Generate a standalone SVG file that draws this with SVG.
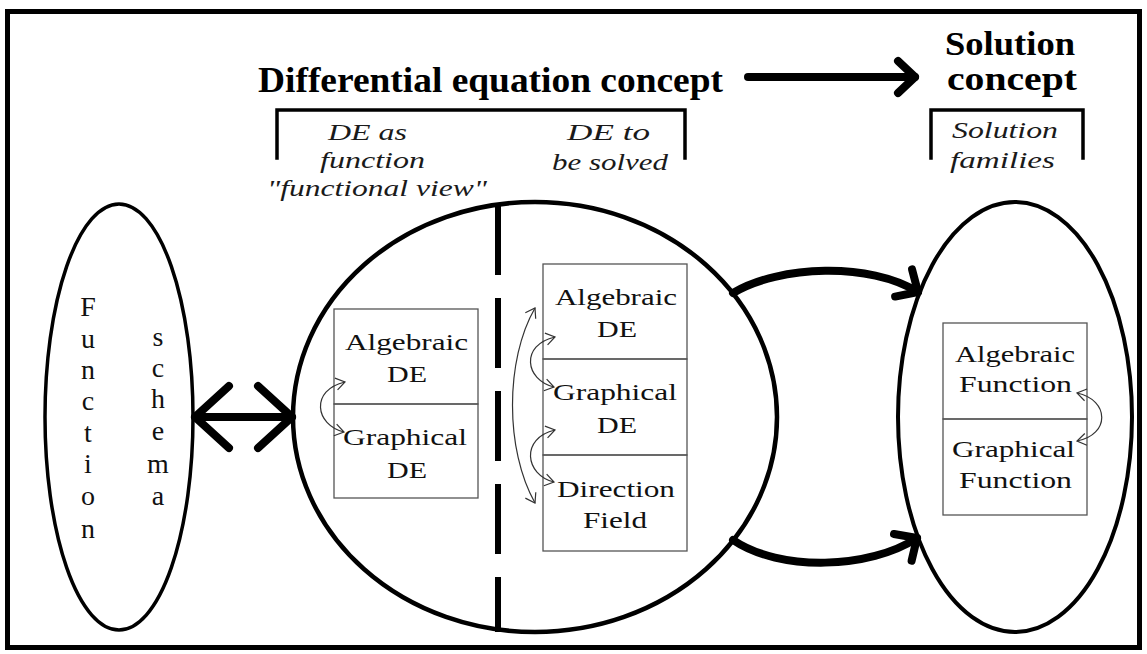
<svg xmlns="http://www.w3.org/2000/svg" width="1147" height="654" viewBox="0 0 1147 654">
<style>
text{font-family:"Liberation Serif","Times New Roman",serif;}
.title{font-weight:bold;font-size:36px;fill:#000;}
.sol{font-weight:bold;font-size:33px;fill:#000;}
.ital{font-style:italic;font-size:23px;fill:#1a1a1a;}
.box{font-size:24px;fill:#111;}
.vert{font-size:28px;fill:#111;text-anchor:middle;}
.oval{fill:none;stroke:#000;}
.brk{fill:none;stroke:#000;stroke-width:3.5;stroke-linecap:square;}
.cell{fill:none;stroke:#555;stroke-width:1.3;}
.thick{fill:none;stroke:#000;stroke-width:8;stroke-linecap:round;}
.thin{fill:none;stroke:#333;stroke-width:1.2;}
</style>
<defs>
<marker id="ah" viewBox="-30 -30 40 60" refX="0" refY="0" markerWidth="40" markerHeight="60" markerUnits="userSpaceOnUse" orient="auto" overflow="visible">
<path d="M-17,-16 L0,0 L-17,16" fill="none" stroke="#000" stroke-width="8" stroke-linecap="round" stroke-linejoin="round"/>
</marker>
<marker id="ahb" viewBox="-45 -40 55 80" refX="0" refY="0" markerWidth="55" markerHeight="80" markerUnits="userSpaceOnUse" orient="auto-start-reverse" overflow="visible">
<path d="M-34,-31 L0,0 L-34,31" fill="none" stroke="#000" stroke-width="8" stroke-linecap="round" stroke-linejoin="round"/>
</marker>
<marker id="as" viewBox="-15 -15 20 30" refX="0" refY="0" markerWidth="20" markerHeight="30" markerUnits="userSpaceOnUse" orient="auto-start-reverse" overflow="visible">
<path d="M-9,-6 L0,0 L-9,6" fill="none" stroke="#333" stroke-width="1.2"/>
</marker>
</defs>
<rect x="0" y="0" width="1147" height="654" fill="#fff"/>
<rect id="frame" x="7.5" y="11.5" width="1132" height="636" fill="none" stroke="#000" stroke-width="5"/>

<g id="title-de">
<text class="title" x="258" y="92" textLength="465" lengthAdjust="spacingAndGlyphs">Differential equation concept</text>
</g>
<g id="title-solution">
<text class="sol" x="945" y="55" textLength="130" lengthAdjust="spacingAndGlyphs">Solution</text>
<text class="sol" x="947" y="90" textLength="130" lengthAdjust="spacingAndGlyphs">concept</text>
</g>

<g id="bracket-de">
<path class="brk" d="M277,158 L277,110 L685,110 L685,158"/>
<text class="ital" x="328" y="140" textLength="79" lengthAdjust="spacingAndGlyphs">DE as</text>
<text class="ital" x="320" y="168" textLength="105" lengthAdjust="spacingAndGlyphs">function</text>
<text class="ital" x="267" y="196" textLength="220" lengthAdjust="spacingAndGlyphs">"functional view"</text>
<text class="ital" x="567" y="140" textLength="83" lengthAdjust="spacingAndGlyphs">DE to</text>
<text class="ital" x="552" y="170" textLength="116" lengthAdjust="spacingAndGlyphs">be solved</text>
</g>
<g id="bracket-solution">
<path class="brk" d="M931,158 L931,110 L1083,110 L1083,158"/>
<text class="ital" x="952" y="138" textLength="106" lengthAdjust="spacingAndGlyphs">Solution</text>
<text class="ital" x="950" y="168" textLength="105" lengthAdjust="spacingAndGlyphs">families</text>
</g>

<g id="function-schema">
<ellipse class="oval" cx="119" cy="417" rx="74" ry="213" stroke-width="3.5"/>
<text class="vert" x="88" y="316">F</text>
<text class="vert" x="88" y="348">u</text>
<text class="vert" x="88" y="379">n</text>
<text class="vert" x="88" y="410">c</text>
<text class="vert" x="88" y="442">t</text>
<text class="vert" x="88" y="473">i</text>
<text class="vert" x="88" y="505">o</text>
<text class="vert" x="88" y="538">n</text>
<text class="vert" x="158" y="346">s</text>
<text class="vert" x="158" y="377">c</text>
<text class="vert" x="158" y="408">h</text>
<text class="vert" x="158" y="440">e</text>
<text class="vert" x="158" y="473">m</text>
<text class="vert" x="158" y="505">a</text>
</g>

<g id="de-concept">
<ellipse class="oval" cx="535" cy="417" rx="242" ry="215" stroke-width="4.5"/>
<line x1="498" y1="205" x2="498" y2="632" stroke="#000" stroke-width="6" stroke-dasharray="70 23"/>
</g>

<g id="de-functional-view">
<rect class="cell" x="334" y="309" width="144" height="95"/>
<rect class="cell" x="334" y="404" width="144" height="94"/>
<text class="box" x="345" y="350" textLength="123" lengthAdjust="spacingAndGlyphs">Algebraic</text>
<text class="box" x="387" y="382" textLength="40" lengthAdjust="spacingAndGlyphs">DE</text>
<text class="box" x="343" y="445" textLength="124" lengthAdjust="spacingAndGlyphs">Graphical</text>
<text class="box" x="387" y="478" textLength="40" lengthAdjust="spacingAndGlyphs">DE</text>
</g>

<g id="de-to-be-solved">
<rect class="cell" x="543" y="264" width="144" height="95"/>
<rect class="cell" x="543" y="359" width="144" height="96"/>
<rect class="cell" x="543" y="455" width="144" height="96"/>
<text class="box" x="555" y="305" textLength="122" lengthAdjust="spacingAndGlyphs">Algebraic</text>
<text class="box" x="597" y="337" textLength="40" lengthAdjust="spacingAndGlyphs">DE</text>
<text class="box" x="553" y="400" textLength="124" lengthAdjust="spacingAndGlyphs">Graphical</text>
<text class="box" x="597" y="433" textLength="40" lengthAdjust="spacingAndGlyphs">DE</text>
<text class="box" x="557" y="497" textLength="118" lengthAdjust="spacingAndGlyphs">Direction</text>
<text class="box" x="583" y="528" textLength="64" lengthAdjust="spacingAndGlyphs">Field</text>
</g>

<g id="solution-families">
<ellipse class="oval" cx="1015" cy="417" rx="117" ry="215" stroke-width="4"/>
<rect class="cell" x="943" y="323" width="144" height="96" stroke="#222"/>
<rect class="cell" x="943" y="419" width="144" height="96" stroke="#222"/>
<text class="box" x="955" y="362" textLength="120" lengthAdjust="spacingAndGlyphs">Algebraic</text>
<text class="box" x="959" y="392" textLength="113" lengthAdjust="spacingAndGlyphs">Function</text>
<text class="box" x="952" y="457" textLength="123" lengthAdjust="spacingAndGlyphs">Graphical</text>
<text class="box" x="959" y="488" textLength="113" lengthAdjust="spacingAndGlyphs">Function</text>
</g>

<g id="connectors">
<line class="thick" x1="748" y1="77" x2="915" y2="77" marker-end="url(#ah)"/>
<line class="thick" x1="195" y1="417" x2="292" y2="417" marker-start="url(#ahb)" marker-end="url(#ahb)"/>
<path class="thick" d="M733,293 C780,265 870,262 918,292" marker-end="url(#ah)"/>
<path class="thick" d="M733,540 C780,572 870,569 917,538" marker-end="url(#ah)"/>
<path class="thin" d="M345,382 C310,390 315,425 344,432" marker-start="url(#as)" marker-end="url(#as)"/>
<path class="thin" d="M555,337 C520,345 525,380 554,387" marker-start="url(#as)" marker-end="url(#as)"/>
<path class="thin" d="M555,430 C520,438 525,475 554,482" marker-start="url(#as)" marker-end="url(#as)"/>
<path class="thin" d="M535,308 C505,360 505,450 535,503" marker-start="url(#as)" marker-end="url(#as)"/>
<path class="thin" d="M1077,393 C1110,400 1110,435 1077,441" marker-start="url(#as)" marker-end="url(#as)"/>
</g>
</svg>
